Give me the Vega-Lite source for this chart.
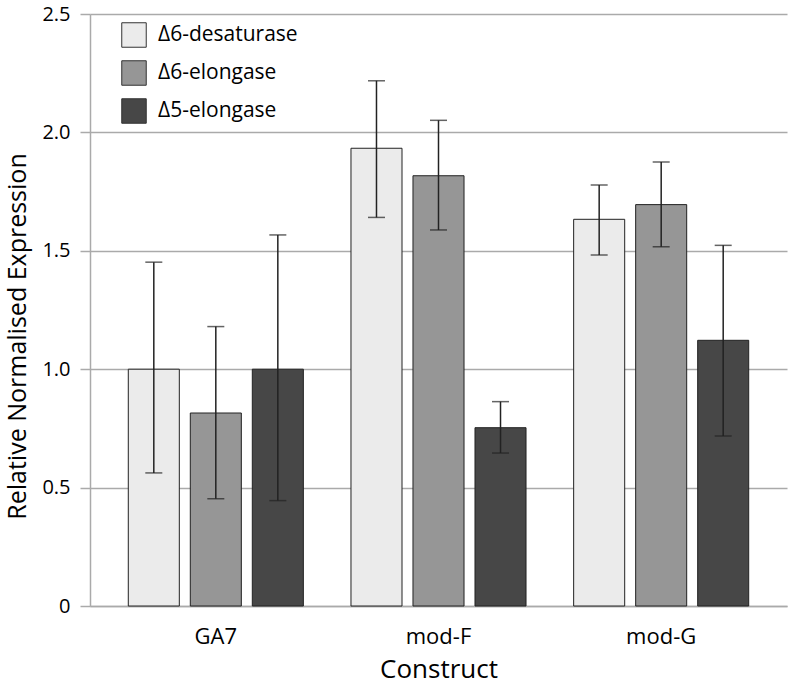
{
  "$schema": "https://vega.github.io/schema/vega-lite/v6.json",
  "autosize": {"type": "none"},
  "padding": {"left": 90, "top": 14, "right": 7, "bottom": 76},
  "width": 697,
  "height": 592,
  "background": "white",
  "config": {
    "font": "Open Sans",
    "view": {"stroke": null},
    "axis": {"labelColor": "black", "titleColor": "black", "labelFont": "Open Sans", "titleFont": "Open Sans", "titleFontWeight": "normal"}
  },
  "data": {
    "values": [
      {"construct": "GA7", "gene": "Δ6-desaturase", "value": 1.0, "lo": 0.562, "hi": 1.452},
      {"construct": "GA7", "gene": "Δ6-elongase", "value": 0.815, "lo": 0.453, "hi": 1.18},
      {"construct": "GA7", "gene": "Δ5-elongase", "value": 1.0, "lo": 0.445, "hi": 1.567},
      {"construct": "mod-F", "gene": "Δ6-desaturase", "value": 1.933, "lo": 1.641, "hi": 2.218},
      {"construct": "mod-F", "gene": "Δ6-elongase", "value": 1.817, "lo": 1.588, "hi": 2.051},
      {"construct": "mod-F", "gene": "Δ5-elongase", "value": 0.753, "lo": 0.646, "hi": 0.863},
      {"construct": "mod-G", "gene": "Δ6-desaturase", "value": 1.633, "lo": 1.482, "hi": 1.778},
      {"construct": "mod-G", "gene": "Δ6-elongase", "value": 1.695, "lo": 1.517, "hi": 1.875},
      {"construct": "mod-G", "gene": "Δ5-elongase", "value": 1.122, "lo": 0.718, "hi": 1.523}
    ]
  },
  "encoding": {
    "x": {
      "field": "construct", "type": "nominal", "sort": ["GA7", "mod-F", "mod-G"],
      "scale": {"paddingInner": 0, "paddingOuter": 0.065},
      "axis": {
        "title": "Construct", "titleFontSize": 26, "titleBaseline": "alphabetic", "titleY": 71,
        "labelFontSize": 22, "labelAngle": 0, "labelBaseline": "alphabetic", "labelPadding": 37,
        "ticks": false, "tickSize": 0, "domainColor": "#aaaaaa", "domainWidth": 1.5, "grid": false
      }
    },
    "xOffset": {
      "field": "gene", "type": "nominal",
      "sort": ["Δ6-desaturase", "Δ6-elongase", "Δ5-elongase"],
      "scale": {"paddingInner": 0.177, "paddingOuter": 0.384}
    }
  },
  "layer": [
    {
      "mark": {"type": "bar", "stroke": "#222222", "strokeWidth": 1},
      "encoding": {
        "y": {
          "field": "value", "type": "quantitative",
          "scale": {"domain": [0, 2.5], "nice": false},
          "axis": {
            "title": "Relative Normalised Expression", "titleFontSize": 25,
            "titleX": -65, "titleY": 322, "titleAngle": -90, "titleBaseline": "alphabetic", "titleAlign": "center",
            "values": [0, 0.5, 1, 1.5, 2, 2.5],
            "labelExpr": "datum.value == 0 ? '0' : format(datum.value, '.1f')",
            "labelFontSize": 20, "labelPadding": 10,
            "tickSize": 10, "tickColor": "#aaaaaa", "tickWidth": 1.5,
            "domainColor": "#aaaaaa", "domainWidth": 1.5,
            "grid": true, "gridColor": "#aaaaaa", "gridWidth": 1.5
          }
        },
        "color": {
          "field": "gene", "type": "nominal",
          "sort": ["Δ6-desaturase", "Δ6-elongase", "Δ5-elongase"],
          "scale": {"domain": ["Δ6-desaturase", "Δ6-elongase", "Δ5-elongase"], "range": ["#ebebeb", "#969696", "#474747"]},
          "legend": {
            "title": null, "orient": "none", "legendX": 31, "legendY": 8,
            "symbolType": "square", "symbolSize": 600, "symbolStrokeColor": "#333333", "symbolStrokeWidth": 1,
            "labelFontSize": 21, "labelFont": "Open Sans", "labelColor": "black", "labelOffset": 11,
            "rowPadding": 8, "padding": 0
          }
        }
      }
    },
    {
      "mark": {"type": "rule", "color": "#222222", "strokeWidth": 1.5},
      "encoding": {
        "y": {"field": "lo", "type": "quantitative"},
        "y2": {"field": "hi"}
      }
    },
    {
      "mark": {"type": "tick", "orient": "horizontal", "color": "#222222", "size": 17, "thickness": 1.5},
      "encoding": {"y": {"field": "lo", "type": "quantitative"}}
    },
    {
      "mark": {"type": "tick", "orient": "horizontal", "color": "#222222", "size": 17, "thickness": 1.5},
      "encoding": {"y": {"field": "hi", "type": "quantitative"}}
    }
  ]
}
